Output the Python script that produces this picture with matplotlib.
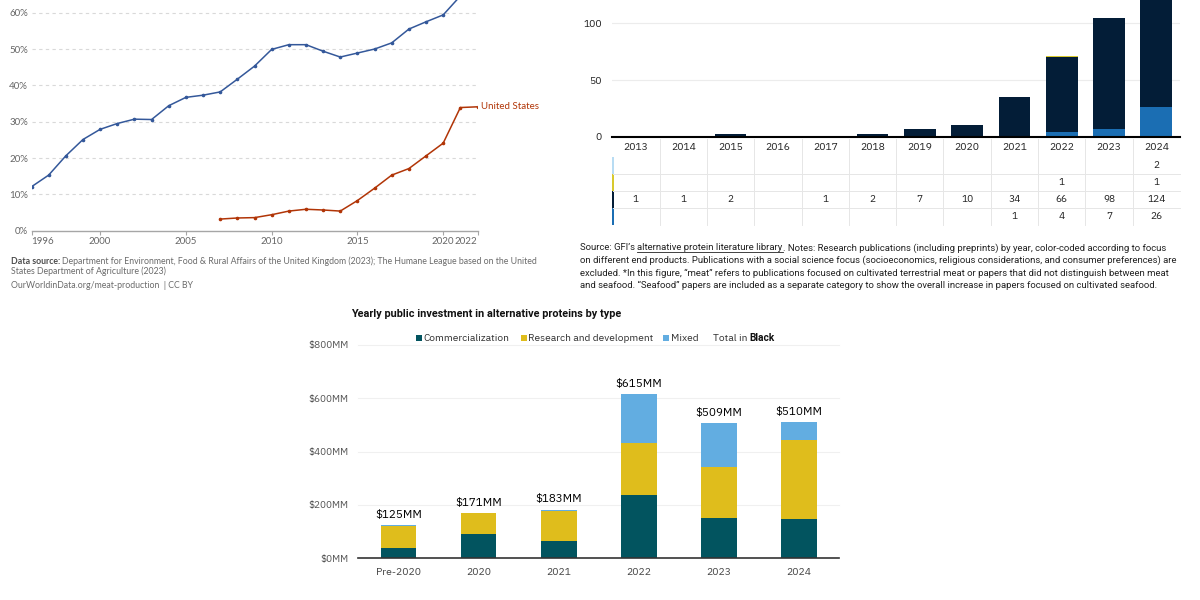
import matplotlib
matplotlib.use("Agg")
import matplotlib.pyplot as plt
import matplotlib.transforms as mtransforms
from matplotlib import font_manager
from matplotlib.patches import Rectangle
from matplotlib.lines import Line2D

# ---------------- data ----------------
# left: share of meat production (Our World in Data)
uk_years = list(range(1996, 2023))
uk_share = [12.1, 15.3, 20.6, 25.1, 27.9, 29.5, 30.7, 30.6, 34.4, 36.7, 37.3, 38.2,
            41.7, 45.3, 49.9, 51.2, 51.2, 49.4, 47.8, 48.9, 50.0, 51.7, 55.5, 57.5,
            59.4, 64.6, 67.0]
us_years = list(range(2007, 2023))
us_share = [3.2, 3.5, 3.6, 4.4, 5.4, 5.9, 5.7, 5.4, 8.3, 11.7, 15.3, 17.1, 20.6,
            24.1, 33.9, 34.1]
us_label = "United States"
owid_xticks = [1996, 2000, 2005, 2010, 2015, 2020, 2022]
owid_yticks = [0, 10, 20, 30, 40, 50, 60]

# top right: research publications per year
pub_years = ["2013", "2014", "2015", "2016", "2017", "2018",
             "2019", "2020", "2021", "2022", "2023", "2024"]
pub_seafood = [0, 0, 0, 0, 0, 0, 0, 0, 1, 4, 7, 26]
pub_meat = [1, 1, 2, 0, 1, 2, 7, 10, 34, 66, 98, 124]
pub_olive = [0, 0, 0, 0, 0, 0, 0, 0, 0, 1, 0, 1]
pub_light = [0, 0, 0, 0, 0, 0, 0, 0, 0, 0, 0, 2]
pub_yticks = [0, 50, 100]

# bottom: yearly public investment ($MM)
inv_cats = ["Pre-2020", "2020", "2021", "2022", "2023", "2024"]
inv_comm = [40, 90, 65, 238, 153, 146]
inv_rnd = [80, 80, 113, 196, 189, 298]
inv_mixed = [5, 1, 5, 181, 167, 66]
inv_total = [125, 171, 183, 615, 509, 510]
inv_yticks = [0, 200, 400, 600, 800]

# ---------------- setup ----------------
W, H = 1200, 600
fig = plt.figure(figsize=(12, 6), dpi=100)
fig.patch.set_facecolor("white")

_fonts = font_manager.fontManager.ttflist


def pick_font(names, need_bold=False):
    for n in names:
        faces = [f for f in _fonts if f.name == n]
        if not faces:
            continue
        if need_bold and not any(f.weight in (600, 700, "bold", "semibold", "demibold")
                                 for f in faces):
            continue
        return n
    return "DejaVu Sans"


OWID_FONT = pick_font(["Lato", "Open Sans"])
GFI_FONT = pick_font(["IBM Plex Sans", "Roboto", "Noto Sans"])
GFI_BOLD = pick_font(["IBM Plex Sans", "Roboto", "Lato", "Noto Sans"], need_bold=True)
NARROW_FONT = pick_font(["Liberation Sans Narrow", "Roboto", "Noto Sans"])


def px_axes(x0, y0, x1, y1):
    return fig.add_axes([x0 / W, 1 - y1 / H, (x1 - x0) / W, (y1 - y0) / H])


def fx(x):
    return x / W


def fy(y):
    return 1 - y / H


renderer = fig.canvas.get_renderer()


def text_runs(x, y, runs, **kw):
    """draw pieces of text one after another on a baseline (pixel coords)"""
    cur = x
    for s, extra in runs:
        opts = dict(kw)
        opts.update(extra)
        underline = opts.pop("underline", False)
        t = fig.text(fx(cur), fy(y), s, va="baseline", ha="left", **opts)
        bb = t.get_window_extent(renderer)
        if underline:
            fig.add_artist(Line2D([fx(bb.x0), fx(bb.x1)], [fy(y + 1.6)] * 2,
                                  transform=fig.transFigure,
                                  color=opts.get("color", "k"), lw=0.6))
        cur = bb.x1


# ---------------- chart 1 (OWID lines) ----------------
ax1 = px_axes(31.5, 0, 477.5, 230.7)
ax1.set_xlim(1996, 2022)
ax1.set_ylim(0, 63.5)
for v in owid_yticks[1:]:
    ax1.axhline(v, color="#d9d9d9", lw=0.8, ls=(0, (3, 3)), zorder=0)
ax1.plot(uk_years, uk_share, color="#34589a", lw=1.1, marker="o", ms=1.6, zorder=3)
ax1.plot(us_years, us_share, color="#b13507", lw=1.1, marker="o", ms=1.6, zorder=3)
ax1.annotate(us_label, (us_years[-1], us_share[-1]), xytext=(2.2, 0),
             textcoords="offset points", va="center", ha="left",
             fontsize=7, color="#b13507", family=OWID_FONT, annotation_clip=False)
for s in ["top", "right", "left"]:
    ax1.spines[s].set_visible(False)
ax1.spines["bottom"].set_color("#a6a6a6")
ax1.spines["bottom"].set_linewidth(1.0)
ax1.set_xticks(owid_xticks)
xl = ax1.set_xticklabels([str(v) for v in owid_xticks], family=OWID_FONT,
                         fontsize=7, color="#666666")
xl[0].set_ha("left")
xl[-1].set_ha("right")
ax1.tick_params(axis="x", length=3, color="#a6a6a6", pad=1.5)
ax1.set_yticks(owid_yticks)
ax1.set_yticklabels([f"{v}%" for v in owid_yticks], family=OWID_FONT,
                    fontsize=7, color="#666666")
ax1.tick_params(axis="y", length=0, pad=2.5)

foot_kw = dict(family=OWID_FONT, fontsize=6.3, color="#6b6b6b")
text_runs(11, 264, [("Data source: ", {"fontweight": "bold", "color": "#4d4d4d"}),
                    ("Department for Environment, Food & Rural Affairs of the United Kingdom "
                     "(2023); The Humane League based on the United", {})], **foot_kw)
text_runs(11, 274.5, [("States Department of Agriculture (2023)", {})], **foot_kw)
text_runs(11, 288, [("OurWorldinData.org/meat-production  | CC BY", {})], **foot_kw)

# ---------------- chart 2 (publications + table) ----------------
c_seafood, c_meat, c_olive, c_light = "#1b6eb3", "#031d37", "#d8c92e", "#b8dcf3"
ax2 = px_axes(612.3, 0, 1180, 136.7)
ax2.set_xlim(-0.5, 11.5)
ax2.set_ylim(0, 120.6)
for v in pub_yticks[1:]:
    ax2.axhline(v, color="#ececec", lw=0.8, zorder=0)
xs = list(range(len(pub_years)))
bw = 0.67
b1 = [0] * len(xs)
ax2.bar(xs, pub_seafood, bw, bottom=b1, color=c_seafood, zorder=2)
b2 = [a + b for a, b in zip(b1, pub_seafood)]
ax2.bar(xs, pub_meat, bw, bottom=b2, color=c_meat, zorder=2)
b3 = [a + b for a, b in zip(b2, pub_meat)]
ax2.bar(xs, pub_olive, bw, bottom=b3, color=c_olive, zorder=2)
b4 = [a + b for a, b in zip(b3, pub_olive)]
ax2.bar(xs, pub_light, bw, bottom=b4, color=c_light, zorder=2)
for s in ["top", "right", "left"]:
    ax2.spines[s].set_visible(False)
ax2.spines["bottom"].set_color("black")
ax2.spines["bottom"].set_linewidth(1.5)
ax2.spines["bottom"].set_zorder(4)
ax2.set_xticks(xs)
ax2.set_xticklabels(pub_years, family=GFI_FONT, fontsize=7.5, color="#222222")
ax2.tick_params(axis="x", length=0, pad=4.5)
ax2.set_yticks(pub_yticks)
ax2.set_yticklabels([str(v) for v in pub_yticks], family=GFI_FONT, fontsize=7.5,
                    color="#222222")
ax2.tick_params(axis="y", length=0, pad=7.5)

tr = mtransforms.blended_transform_factory(ax2.transData, fig.transFigure)
rows = [(pub_light, c_light), (pub_olive, c_olive), (pub_meat, c_meat), (pub_seafood, c_seafood)]
row_centers = [165.7, 182.5, 200, 216.7]
row_edges = [156.5, 174, 191, 208.3, 225]
for (vals, col), yc, y0, y1 in zip(rows, row_centers, row_edges[:-1], row_edges[1:]):
    for i, v in enumerate(vals):
        if v:
            fig.text(i, fy(yc), str(v), transform=tr, ha="center", va="center",
                     family=GFI_FONT, fontsize=7.3, color="#222222")
    fig.add_artist(Rectangle((fx(611.5), fy(y1)), 2.5 / W, (y1 - y0) / H,
                             transform=fig.transFigure, color=col, lw=0))
for yl in row_edges[1:-1]:
    fig.add_artist(Line2D([fx(613), fx(1180)], [fy(yl)] * 2, transform=fig.transFigure,
                          color="#e6e6e6", lw=0.7))
for i in xs[:-1]:
    fig.add_artist(Line2D([i + 0.5] * 2, [fy(139), fy(225)], transform=tr,
                          color="#e6e6e6", lw=0.7))

src_lines = [
    [("Source: GFI\u2019s ", {}), ("alternative protein literature library", {"underline": True}),
     (". Notes: Research publications (including preprints) by year, color-coded according to focus", {})],
    [("on different end products. Publications with a social science focus (socioeconomics, "
      "religious considerations, and consumer preferences) are", {})],
    [("excluded. *In this figure, \u201cmeat\u201d refers to publications focused on cultivated "
      "terrestrial meat or papers that did not distinguish between meat", {})],
    [("and seafood. \u201cSeafood\u201d papers are included as a separate category to show the "
      "overall increase in papers focused on cultivated seafood.", {})],
]
for k, runs in enumerate(src_lines):
    text_runs(580, 250.5 + 12.6 * k, runs, family=NARROW_FONT, fontsize=6.8, color="#222222")

# ---------------- chart 3 (investment) ----------------
c_comm, c_rnd, c_mixed = "#02545f", "#dfbd1c", "#62ade1"
ax3 = px_axes(358.3, 345, 839.3, 558.3)
ax3.set_xlim(-0.5, 5.5)
ax3.set_ylim(0, 800)
for v in inv_yticks[1:]:
    ax3.axhline(v, color="#f0f0f0", lw=0.8, zorder=0, clip_on=False)
xi = list(range(len(inv_cats)))
w3 = 0.445
ax3.bar(xi, inv_comm, w3, color=c_comm, zorder=2)
bb_ = inv_comm
ax3.bar(xi, inv_rnd, w3, bottom=bb_, color=c_rnd, zorder=2)
bb_ = [a + b for a, b in zip(inv_comm, inv_rnd)]
ax3.bar(xi, inv_mixed, w3, bottom=bb_, color=c_mixed, zorder=2)
for i, t in enumerate(inv_total):
    ax3.annotate(f"${t}MM", (i, t), xytext=(0, 3.6), textcoords="offset points",
                 ha="center", va="bottom", family=GFI_FONT, fontsize=8.4, color="#000000")
for s in ["top", "right", "left"]:
    ax3.spines[s].set_visible(False)
ax3.spines["bottom"].set_color("#333333")
ax3.spines["bottom"].set_linewidth(1.2)
ax3.set_xticks(xi)
ax3.set_xticklabels(inv_cats, family=GFI_FONT, fontsize=7.5, color="#444444")
ax3.tick_params(axis="x", length=0, pad=7)
ax3.set_yticks(inv_yticks)
ax3.set_yticklabels([f"${v}MM" for v in inv_yticks], family=GFI_FONT, fontsize=7.2,
                    color="#555555")
ax3.tick_params(axis="y", length=0, pad=7.2)

fig.text(fx(351), fy(314), "Yearly public investment in alternative proteins by type",
         family=GFI_BOLD, fontweight="bold", fontsize=7.8, color="#111111", va="center")

legend_items = [("Commercialization", c_comm, 415.5), ("Research and development", c_rnd, 520.5),
                ("Mixed", c_mixed, 663)]
for name, col, x0 in legend_items:
    fig.add_artist(Rectangle((fx(x0), fy(340.7)), 6 / W, 6 / H, transform=fig.transFigure,
                             color=col, lw=0))
    text_runs(x0 + 7.5, 341, [(name, {})], family=GFI_FONT, fontsize=7.3, color="#333333")
text_runs(713, 341, [("Total in ", {}),
                     ("Black", {"fontweight": "bold", "color": "#111111", "family": GFI_BOLD})],
          family=GFI_FONT, fontsize=7.3, color="#333333")

fig.savefig("out.png", dpi=100, facecolor="white")
